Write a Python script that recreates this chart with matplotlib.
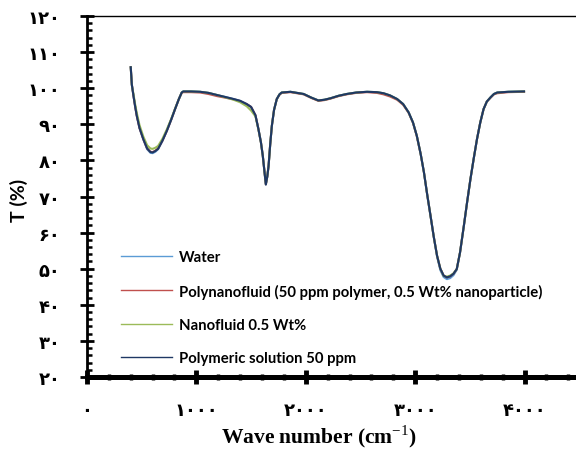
import matplotlib
matplotlib.use("Agg")
import matplotlib.pyplot as plt
from matplotlib.ticker import MultipleLocator

plt.rcParams['mathtext.fontset'] = 'custom'
plt.rcParams['mathtext.rm'] = 'Liberation Serif'

# wave numbers (cm-1), shared by all four spectra
wave = [400, 410, 425, 440, 455, 480, 515, 550, 580, 600, 625, 650, 690, 730, 770, 805, 840, 866, 880,
        950, 1035, 1110, 1190, 1260, 1340, 1400, 1460, 1500, 1540, 1567, 1590, 1607, 1622, 1635, 1648,
        1660, 1675, 1690, 1710, 1735, 1760, 1780,
        1860, 1980, 2050, 2115, 2170, 2225, 2300, 2375, 2460, 2560, 2650, 2710, 2770, 2835, 2890, 2940,
        2980, 3015, 3050, 3080, 3110, 3140, 3170, 3200, 3230, 3260, 3290, 3320, 3350, 3380, 3410, 3445,
        3475, 3505, 3535, 3565, 3595, 3625, 3655, 3690, 3720, 3750, 3850, 3995]

T_water = [105.8, 101.0, 97.9, 95.0, 92.4, 89.0, 85.8, 83.1, 82.1, 82.0, 82.4, 83.1, 85.4, 88.2, 91.3, 94.2, 97.0, 98.8, 99.1,
           99.1, 99.0, 98.7, 98.1, 97.6, 97.0, 96.5, 95.6, 94.8, 92.5, 88.7, 85.0, 81.3, 77.0, 73.4, 75.5,
           78.5, 84.5, 89.6, 94.0, 97.0, 98.3, 98.8,
           99.0, 98.4, 97.4, 96.6, 96.8, 97.2, 97.9, 98.4, 98.8, 99.0, 98.9, 98.6, 98.0, 97.0, 95.6, 93.3,
           90.5, 86.8, 81.8, 76.7, 70.5, 64.7, 58.8, 53.4, 49.6, 47.7, 47.1, 47.4, 48.2, 49.7, 54.5, 61.9,
           68.5, 74.8, 80.5, 85.9, 90.5, 94.2, 96.3, 97.5, 98.4, 98.8, 99.0, 99.1]

T_polynano = [105.8, 101.0, 97.9, 95.0, 92.4, 89.0, 85.9, 83.3, 82.4, 82.3, 82.7, 83.3, 85.5, 88.2, 91.3, 94.2, 97.0, 98.7, 98.9,
              98.9, 98.8, 98.4, 97.8, 97.4, 96.9, 96.4, 95.6, 94.8, 92.5, 88.7, 85.0, 81.3, 77.0, 73.4, 75.5,
              78.5, 84.5, 89.6, 94.0, 97.0, 98.2, 98.7,
              98.9, 98.3, 97.3, 96.5, 96.7, 97.1, 97.8, 98.3, 98.7, 98.9, 98.7, 98.3, 97.7, 96.8, 95.4, 93.2,
              90.4, 86.7, 81.8, 76.7, 70.5, 64.7, 58.8, 53.6, 50.0, 48.1, 47.6, 47.9, 48.6, 49.9, 54.5, 61.9,
              68.5, 74.8, 80.5, 85.9, 90.5, 94.2, 96.3, 97.4, 98.3, 98.6, 98.9, 99.0]

T_nano = [105.8, 100.8, 98.4, 95.6, 93.2, 89.8, 86.6, 84.2, 83.3, 83.2, 83.5, 84.0, 86.0, 88.6, 91.5, 94.3, 97.0, 98.8, 99.1,
          99.1, 99.0, 98.7, 98.1, 97.5, 96.8, 96.1, 95.0, 93.8, 92.2, 88.6, 85.0, 81.3, 77.0, 73.5, 75.5,
          78.5, 84.5, 89.6, 94.0, 97.0, 98.3, 98.8,
          99.0, 98.4, 97.4, 96.6, 96.8, 97.2, 97.9, 98.4, 98.8, 99.0, 98.9, 98.6, 98.0, 97.0, 95.6, 93.3,
          90.5, 86.8, 81.8, 76.7, 70.5, 64.7, 58.8, 53.6, 50.0, 48.0, 47.8, 48.1, 48.7, 49.9, 54.5, 61.9,
          68.5, 74.8, 80.5, 85.9, 90.5, 94.2, 96.3, 97.5, 98.4, 98.8, 99.0, 99.1]

T_polymer = [105.8, 101.0, 97.9, 95.0, 92.4, 89.0, 85.9, 83.3, 82.3, 82.2, 82.6, 83.2, 85.5, 88.2, 91.3, 94.2, 97.0, 98.8, 99.1,
             99.1, 99.0, 98.7, 98.1, 97.6, 97.0, 96.5, 95.6, 94.8, 92.5, 88.7, 85.0, 81.3, 77.0, 73.3, 75.5,
             78.5, 84.5, 89.6, 94.0, 97.0, 98.3, 98.8,
             99.0, 98.4, 97.4, 96.6, 96.8, 97.2, 97.9, 98.4, 98.8, 99.0, 98.9, 98.6, 98.0, 97.0, 95.6, 93.3,
             90.5, 86.8, 81.8, 76.7, 70.5, 64.7, 58.8, 53.6, 50.0, 48.1, 47.6, 47.9, 48.6, 49.9, 54.5, 61.9,
             68.5, 74.8, 80.5, 85.9, 90.5, 94.2, 96.3, 97.5, 98.4, 98.8, 99.0, 99.1]

labels = ['Water', 'Polynanofluid (50 ppm polymer, 0.5 Wt% nanoparticle)',
          'Nanofluid 0.5 Wt%', 'Polymeric solution 50 ppm']
colors = ['#5B9BD5', '#C0504D', '#9BBB59', '#1F3864']

xticks = [0, 1000, 2000, 3000, 4000]
xticklabels = ['۰', '۱۰۰۰', '۲۰۰۰', '۳۰۰۰', '۴۰۰۰']
yticks = [20, 30, 40, 50, 60, 70, 80, 90, 100, 110, 120]
yticklabels = ['۲۰', '۳۰', '۴۰', '۵۰', '۶۰', '۷۰', '۸۰', '۹۰', '۱۰۰', '۱۱۰', '۱۲۰']

fig = plt.figure(figsize=(5.76, 4.52), dpi=100)
ax = fig.add_axes([0.151, 0.1637, 0.849, 0.7987])

for ys, lab, c in zip([T_water, T_polynano, T_nano, T_polymer], labels, colors):
    ax.plot(wave, ys, color=c, linewidth=1.5, label=lab)

ax.set_xlim(0, 4470)
ax.set_ylim(20, 120)

ax.spines['right'].set_visible(False)
ax.spines['bottom'].set_linewidth(3.6)
ax.spines['left'].set_linewidth(2.0)
ax.spines['top'].set_linewidth(1.0)

ax.set_xticks(xticks)
ax.set_xticklabels(xticklabels, fontsize=13, fontweight='bold', family='DejaVu Sans')
ax.set_yticks(yticks)
ax.set_yticklabels(yticklabels, fontsize=13, fontweight='bold', family='DejaVu Sans')
ax.xaxis.set_minor_locator(MultipleLocator(200))
ax.yaxis.set_minor_locator(MultipleLocator(2))
ax.tick_params(axis='x', which='major', direction='inout', length=10, width=3.5, pad=12)
ax.tick_params(axis='x', which='minor', direction='inout', length=5, width=2.5)
ax.tick_params(axis='y', which='major', direction='inout', length=10, width=2, pad=14)
ax.tick_params(axis='y', which='minor', direction='in', length=3.5, width=1.8)

ax.text(0.474, -0.163, 'Wave number (cm$^{\\mathrm{-1}}$)', transform=ax.transAxes,
        ha='center', va='center', fontsize=15.5, fontweight='bold', family='Liberation Serif')
ax.text(-0.139, 0.493, 'T (%)', transform=ax.transAxes, rotation=90,
        ha='center', va='center', fontsize=14, fontweight='bold', family='Lato')

leg = ax.legend(loc='upper left', bbox_to_anchor=(0.0695, 0.351), frameon=False,
                prop={'family': 'Lato', 'weight': 'bold', 'size': 10.7},
                handlelength=3.45, handletextpad=0.47, labelspacing=1.3,
                borderpad=0, borderaxespad=0)
for h in leg.get_lines():
    h.set_linewidth(1.0)

fig.savefig('out.png', dpi=100)
